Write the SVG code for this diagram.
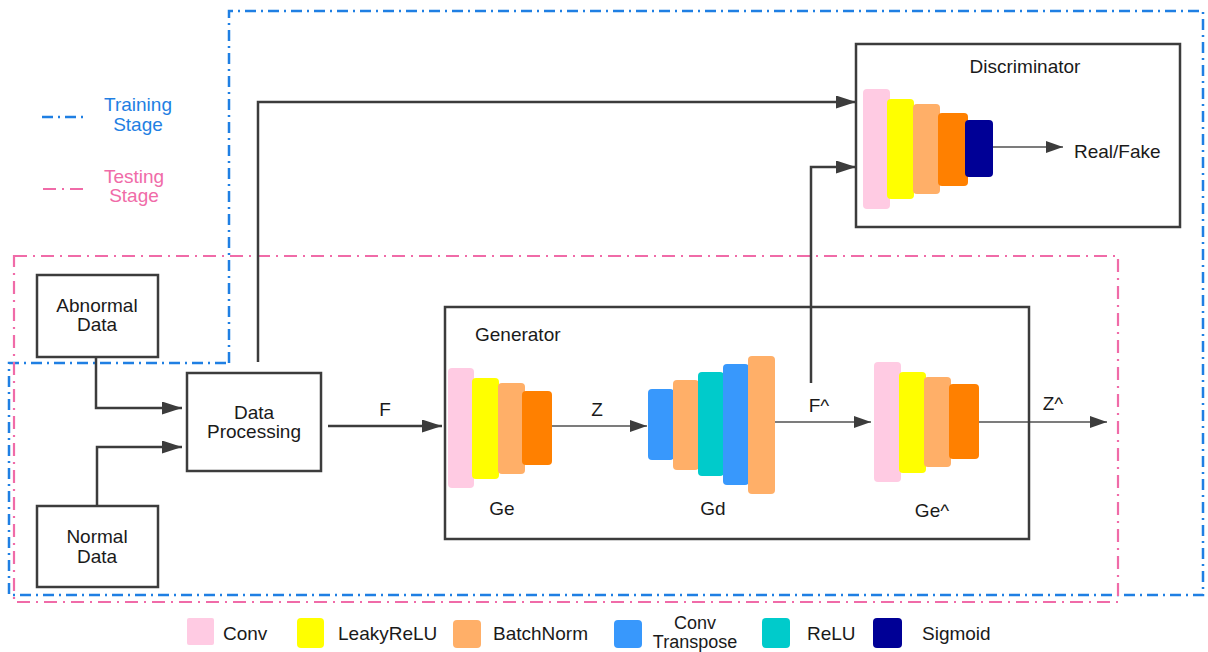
<svg xmlns="http://www.w3.org/2000/svg" width="1208" height="652" viewBox="0 0 1208 652">
<defs>
<style>
text{font-family:"Liberation Sans",Arial,sans-serif;font-size:19px;fill:#1a1a1a}
.box{fill:none;stroke:#3c3c3c;stroke-width:2.5}
.wire{fill:none;stroke:#3c3c3c;stroke-width:2.5}
.thin{fill:none;stroke:#505050;stroke-width:1.5}
.train{fill:none;stroke:#1f7fe3;stroke-width:2.5;stroke-dasharray:11 5 2 5}
.test{fill:none;stroke:#f06ba8;stroke-width:2.2;stroke-dasharray:13 6 2 6}
.tb{fill:#1f7fe3}
.tp{fill:#f06ba8}
.c1{fill:#ffcbe3}.c2{fill:#ffff00}.c3{fill:#ffaf68}.c4{fill:#ff8000}.c5{fill:#3898fc}.c6{fill:#00cbcb}.c7{fill:#000096}
.mid{text-anchor:middle}
.sm{font-size:18px}
</style>
<marker id="ab" markerUnits="userSpaceOnUse" markerWidth="22" markerHeight="14" refX="20" refY="6.5" orient="auto"><path d="M0,0 L20,6.5 L0,13 z" fill="#3c3c3c"/></marker>
<marker id="as" markerUnits="userSpaceOnUse" markerWidth="20" markerHeight="14" refX="17" refY="6" orient="auto"><path d="M0,0 L17,6 L0,12 z" fill="#3c3c3c"/></marker>
</defs>
<rect width="1208" height="652" fill="#fff"/>

<g id="stages">
<path class="train" d="M229,363 V11 H1203 V595 H9 V363 Z"/>
<rect class="test" x="14" y="256" width="1104" height="346"/>
</g>

<g id="legend-stage">
<line class="train" x1="42" y1="117" x2="88" y2="117"/>
<text class="tb mid" x="138" y="111">Training</text>
<text class="tb mid" x="138" y="131">Stage</text>
<line class="test" x1="43" y1="189" x2="89" y2="189"/>
<text class="tp mid" x="134" y="183">Testing</text>
<text class="tp mid" x="134" y="202">Stage</text>
</g>

<g id="connectors">
<path class="wire" d="M96,357 V408 H182" marker-end="url(#ab)"/>
<path class="wire" d="M97,506 V447 H182" marker-end="url(#ab)"/>
<path class="wire" d="M258,362 V102 H856" marker-end="url(#ab)"/>
<path class="wire" d="M811,383 V167 H856" marker-end="url(#ab)"/>
<path class="wire" d="M328,426 H442" marker-end="url(#ab)"/>
<path class="thin" d="M552,426 H647" marker-end="url(#as)"/>
<path class="thin" d="M775,422 H871" marker-end="url(#as)"/>
<path class="thin" d="M979,422 H1107" marker-end="url(#as)"/>
<path class="thin" d="M993,147 H1063" marker-end="url(#as)"/>
<text x="385" y="416" class="mid">F</text>
<text x="597" y="416" class="mid">Z</text>
<text x="819" y="412" class="mid">F^</text>
<text x="1053" y="410" class="mid">Z^</text>
</g>

<g id="abnormal">
<rect class="box" x="37" y="275" width="121" height="82"/>
<text class="mid" x="97" y="312">Abnormal</text>
<text class="mid" x="97" y="331">Data</text>
</g>

<g id="normal">
<rect class="box" x="37" y="506" width="121" height="81"/>
<text class="mid" x="97" y="543">Normal</text>
<text class="mid" x="97" y="563">Data</text>
</g>

<g id="processing">
<rect class="box" x="187" y="373" width="134" height="98"/>
<text class="mid" x="254" y="419">Data</text>
<text class="mid" x="254" y="438">Processing</text>
</g>

<g id="generator">
<rect class="box" x="445" y="307" width="584" height="232"/>
<text x="475" y="341">Generator</text>
<g id="ge">
<rect class="c1" x="448" y="368" width="26" height="120" rx="4"/>
<rect class="c2" x="472" y="378" width="27" height="101" rx="4"/>
<rect class="c3" x="498" y="383" width="27" height="91" rx="4"/>
<rect class="c4" x="522" y="391" width="30" height="74" rx="4"/>
<text class="mid" x="502" y="515">Ge</text>
</g>
<g id="gd">
<rect class="c5" x="648" y="389" width="26" height="71" rx="4"/>
<rect class="c3" x="673" y="380" width="26" height="90" rx="4"/>
<rect class="c6" x="698" y="372" width="26" height="104" rx="4"/>
<rect class="c5" x="723" y="364" width="26" height="121" rx="4"/>
<rect class="c3" x="748" y="356" width="27" height="138" rx="4"/>
<text class="mid" x="713" y="515">Gd</text>
</g>
<g id="ge2">
<rect class="c1" x="874" y="362" width="27" height="120" rx="4"/>
<rect class="c2" x="899" y="372" width="27" height="101" rx="4"/>
<rect class="c3" x="924" y="377" width="27" height="90" rx="4"/>
<rect class="c4" x="949" y="384" width="30" height="75" rx="4"/>
<text class="mid" x="932" y="517">Ge^</text>
</g>
</g>

<g id="discriminator">
<rect class="box" x="856" y="44" width="324" height="183"/>
<text class="mid" x="1025" y="73">Discriminator</text>
<rect class="c1" x="863" y="89" width="27" height="120" rx="4"/>
<rect class="c2" x="887" y="99" width="27" height="100" rx="4"/>
<rect class="c3" x="913" y="104" width="27" height="90" rx="4"/>
<rect class="c4" x="938" y="113" width="30" height="73" rx="4"/>
<rect class="c7" x="965" y="120" width="28" height="57" rx="4"/>
<text x="1074" y="158">Real/Fake</text>
</g>

<g id="legend">
<rect class="c1" x="187" y="618" width="27" height="27" rx="2"/>
<text x="223" y="640">Conv</text>
<rect class="c2" x="297" y="618" width="27" height="30" rx="4"/>
<text x="338" y="640">LeakyReLU</text>
<rect class="c3" x="453" y="620" width="28" height="28" rx="4"/>
<text x="493" y="640">BatchNorm</text>
<rect class="c5" x="614" y="620" width="28" height="28" rx="4"/>
<text class="mid sm" x="695" y="629">Conv</text>
<text class="mid sm" x="695" y="648">Transpose</text>
<rect class="c6" x="762" y="618" width="28" height="30" rx="4"/>
<text x="807" y="640">ReLU</text>
<rect class="c7" x="873" y="618" width="29" height="30" rx="4"/>
<text x="922" y="640">Sigmoid</text>
</g>
</svg>
